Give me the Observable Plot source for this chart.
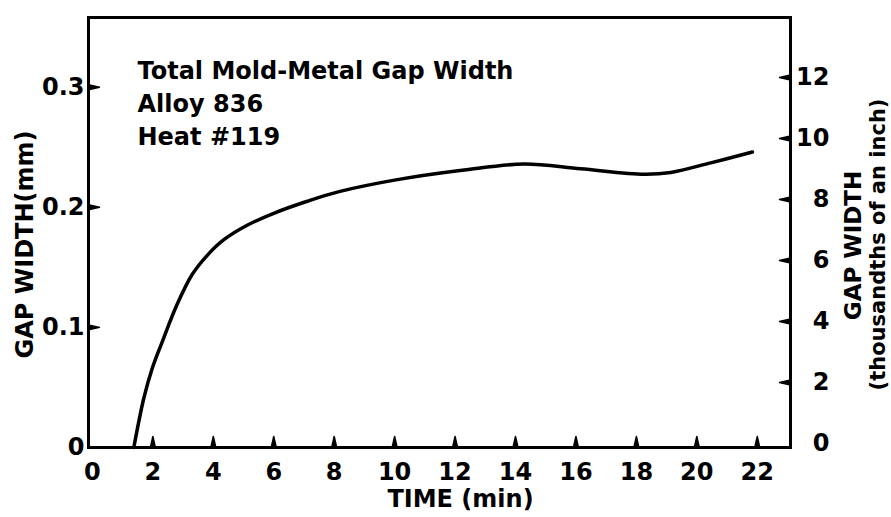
<!DOCTYPE html>
<html>
<head>
<meta charset="utf-8">
<script src="https://cdn.jsdelivr.net/npm/d3@7"></script>
<script src="https://cdn.jsdelivr.net/npm/@observablehq/plot@0.6"></script>
<style>
  html, body { margin: 0; padding: 0; background: #fff; }
  #chart { width: 891px; height: 517px; overflow: hidden; }
</style>
</head>
<body>
<div id="chart"></div>
<script>
// ---- data ----
const timeMin = [1.37, 1.70, 1.98, 2.31, 2.80, 3.30, 3.80, 4.35, 5.12, 6.00, 7.11, 8.16, 10.09, 12.30, 14.28, 16.16, 18.26, 19.14, 20.46, 21.84];
const gapMm   = [0.000, 0.041, 0.066, 0.088, 0.119, 0.144, 0.160, 0.173, 0.185, 0.195, 0.205, 0.213, 0.223, 0.231, 0.236, 0.232, 0.2275, 0.229, 0.237, 0.246];

const xTickLabels = [0, 2, 4, 6, 8, 10, 12, 14, 16, 18, 20, 22];
const xTickMarks  = [2, 4, 6, 8, 10, 12, 14, 16, 18, 20, 22];
const yLeftTicks  = [0, 0.1, 0.2, 0.3];
const yRightTicksThou = [0, 2, 4, 6, 8, 10, 12];
const annotationLines = ["Total Mold-Metal Gap Width", "Alloy 836", "Heat #119"];
const xLabel = "TIME (min)";
const yLeftLabel = "GAP WIDTH(mm)";
const yRightLabel1 = "GAP WIDTH";
const yRightLabel2 = "(thousandths of an inch)";

const MM_PER_THOU = 0.0254;
const data = timeMin.map((t, i) => ({t, v: gapMm[i]}));
const rightTicksMm = yRightTicksThou.map(d => d * MM_PER_THOU);

const TICK = 11;
const tickStyle = {length: TICK, anchor: "start", shape: "spike", r: 2.5, stroke: "#000", fill: "#000", strokeWidth: 1.5};

const chart = Plot.plot({
  width: 891,
  height: 517,
  marginLeft: 88,
  marginRight: 101,
  marginTop: 17,
  marginBottom: 70,
  x: {domain: [-0.13, 23.1]},
  y: {domain: [0, 0.358]},
  style: {fontFamily: "DejaVu Sans", fontSize: "24px", fontWeight: "bold", color: "#000", background: "#fff"},
  marks: [
    Plot.frame({stroke: "#000", strokeWidth: 3}),
    // inward tick marks
    Plot.vector(xTickMarks, {x: d => d, frameAnchor: "bottom", rotate: 0, ...tickStyle}),
    Plot.vector(yLeftTicks.filter(d => d > 0), {y: d => d, frameAnchor: "left", rotate: 90, ...tickStyle}),
    Plot.vector(rightTicksMm.filter(d => d > 0), {y: d => d, frameAnchor: "right", rotate: -90, dy: -4, ...tickStyle}),
    // tick labels
    Plot.axisX(xTickLabels, {tickSize: 0, tickPadding: 15, label: null, tickFormat: d => String(d)}),
    Plot.axisY(yLeftTicks, {tickSize: 0, tickPadding: 4, label: null, tickFormat: d => d === 0 ? "0" : d.toFixed(1)}),
    Plot.axisY(rightTicksMm, {anchor: "right", tickSize: 0, tickPadding: 39, textAnchor: "end", label: null, dy: -4,
      tickFormat: d => String(Math.round(d / MM_PER_THOU))}),
    // curve
    Plot.line(data, {x: "t", y: "v", stroke: "#000", strokeWidth: 3.5, curve: "catmull-rom"}),
    // annotation
    Plot.text([annotationLines.join("\n")], {frameAnchor: "top-left", dx: 49, dy: 38, lineAnchor: "top",
      textAnchor: "start", lineHeight: 1.375, fontSize: 24, fontWeight: "bold", fill: "#000"}),
    // axis titles
    Plot.text([xLabel], {frameAnchor: "bottom", dx: 21, dy: 52, textAnchor: "middle", lineAnchor: "middle", fontSize: 24, fill: "#000"}),
    Plot.text([yLeftLabel], {frameAnchor: "left", dx: -63, dy: 12, rotate: -90, textAnchor: "middle", lineAnchor: "middle", fontSize: 24, fill: "#000"}),
    Plot.text([yRightLabel1], {frameAnchor: "right", dx: 63, dy: 13, rotate: -90, textAnchor: "middle", lineAnchor: "middle", fontSize: 23, fill: "#000"}),
    Plot.text([yRightLabel2], {frameAnchor: "right", dx: 88, dy: 12, rotate: -90, textAnchor: "middle", lineAnchor: "middle", fontSize: 21, fill: "#000"})
  ]
});
document.getElementById("chart").appendChild(chart);
</script>
</body>
</html>
